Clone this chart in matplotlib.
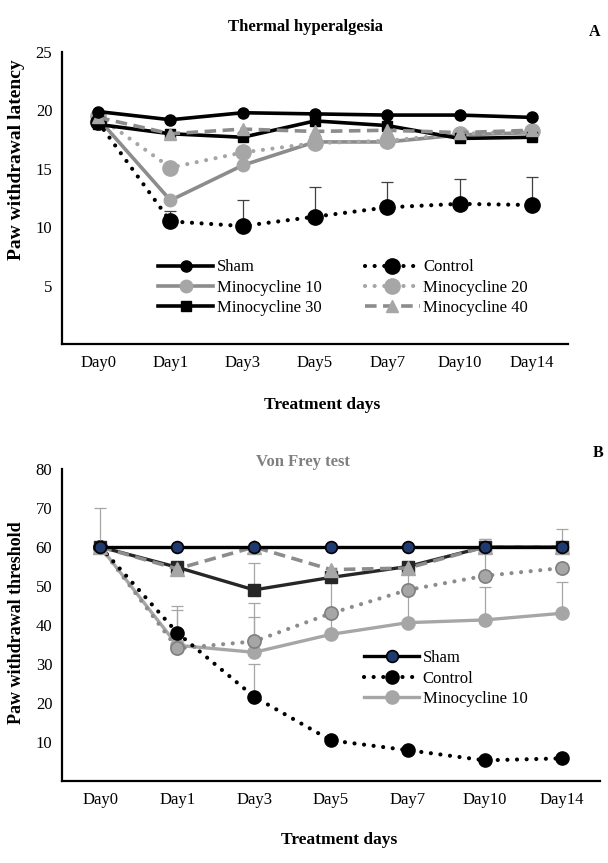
import numpy as np
import matplotlib.pyplot as plt

plt.rcParams['font.family'] = ['Liberation Serif', 'DejaVu Serif']

days = ['Day0', 'Day1', 'Day3', 'Day5', 'Day7', 'Day10', 'Day14']

# A - thermal hyperalgesia, paw withdrawal latency
a_sham = [19.9, 19.2, 19.8, 19.7, 19.6, 19.6, 19.4]
a_control = [19.0, 10.5, 10.1, 10.9, 11.7, 12.0, 11.9]
a_control_err = [0, 0.9, 2.2, 2.5, 2.2, 2.1, 2.4]
a_min10 = [19.3, 12.3, 15.3, 17.3, 17.3, 17.9, 18.1]
a_min20 = [19.5, 15.1, 16.4, 17.2, 17.4, 18.0, 18.2]
a_min30 = [18.8, 18.0, 17.7, 19.1, 18.7, 17.6, 17.7]
a_min40 = [19.4, 18.0, 18.4, 18.2, 18.3, 18.1, 18.3]

# B - von Frey, paw withdrawal threshold
b_sham = [60, 60, 60, 60, 60, 60, 60]
b_control = [60, 38.0, 21.6, 10.4, 7.9, 5.3, 5.8]
b_min10 = [60, 34.8, 33.0, 37.6, 40.6, 41.3, 43.0]
b_min20 = [60, 34.0, 35.8, 43.0, 49.0, 52.6, 54.6]
b_min30 = [60, 54.8, 49.0, 52.2, 55.0, 60, 60]
b_min40 = [60, 54.4, 60, 54.2, 54.6, 60, 60]
b_control_err = [10, 6.9, 8.4, 0, 0, 0, 0]
b_min10_err = [0, 0, 9, 14, 14, 8.5, 8]
b_min20_err = [0, 9.8, 9.8, 0, 0, 9.4, 0]
b_min30_err = [0, 0, 7, 0, 0, 0, 0]
b_min40_err = [0, 0, 0, 0, 0, 2, 4.6]

x = np.arange(len(days))
DOT = (0, (0.01, 2.3))
DASH = (0, (3.2, 1.8))


def up_err(ax, vals, err, color):
    vals = np.asarray(vals, float)
    err = np.asarray(err, float)
    keep = err > 0
    ax.errorbar(x[keep], vals[keep], yerr=[np.zeros(keep.sum()), err[keep]],
                fmt='none', ecolor=color, elinewidth=0.9, capsize=4,
                capthick=0.9, zorder=2)


def style(ax, ymax, ticks):
    ax.set_xlim(-0.5, 6.5)
    ax.set_ylim(0, ymax)
    ax.set_xticks(x)
    ax.set_xticklabels(days)
    ax.set_yticks(ticks)
    ax.tick_params(length=0, labelsize=12, pad=8)
    ax.tick_params(axis='y', pad=7)
    for s in ['top', 'right']:
        ax.spines[s].set_visible(False)
    for s in ['left', 'bottom']:
        ax.spines[s].set_linewidth(1.6)


fig = plt.figure(figsize=(6.08, 8.63), dpi=100)

# ---- panel A
ax1 = fig.add_axes([62/608, 1-344/863, 506/608, 292/863])
up_err(ax1, a_control, a_control_err, '#404040')
l_sham, = ax1.plot(x, a_sham, color='black', lw=2.6, marker='o', ms=8, label='Sham', zorder=5)
l_ctrl, = ax1.plot(x, a_control, color='black', lw=3, ls=DOT, dash_capstyle='round',
                   marker='o', ms=11, label='Control', zorder=4)
l_m10, = ax1.plot(x, a_min10, color='#8C8C8C', lw=2.6, marker='o', mfc='#A6A6A6',
                  mec='#A6A6A6', ms=9, label='Minocycline 10', zorder=3)
l_m20, = ax1.plot(x, a_min20, color='#A6A6A6', lw=3, ls=DOT, dash_capstyle='round',
                  marker='o', ms=11, label='Minocycline 20', zorder=3)
l_m30, = ax1.plot(x, a_min30, color='black', lw=2.6, marker='s', ms=7,
                  label='Minocycline 30', zorder=4)
l_m40, = ax1.plot(x, a_min40, color='#8C8C8C', lw=2.6, ls=DASH, marker='^', mfc='#A6A6A6',
                  mec='#A6A6A6', ms=9, label='Minocycline 40', zorder=4)
style(ax1, 25, [5, 10, 15, 20, 25])
# excel fills legend row by row, matplotlib by column
hs = [l_sham, l_m10, l_m30, l_ctrl, l_m20, l_m40]
ax1.legend(hs, [h.get_label() for h in hs], ncol=2, loc='upper left',
           bbox_to_anchor=(150/608, 1-251/863),
           bbox_transform=fig.transFigure, frameon=False, fontsize=12,
           handlelength=3.3, labelspacing=0.25, columnspacing=2.6, handletextpad=0.2,
           borderpad=0)

fig.text(305/608, 1-27/863, 'Thermal hyperalgesia', ha='center', va='center',
         fontsize=12, fontweight='bold')
fig.text(595/608, 1-32/863, 'A', ha='center', va='center', fontsize=11.5, fontweight='bold')
fig.text(17/608, 1-160/863, 'Paw withdrawal latency', rotation=90, ha='center',
         va='center', fontsize=14, fontweight='bold')
fig.text(322/608, 1-405/863, 'Treatment days', ha='center', va='center',
         fontsize=12.5, fontweight='bold')

# ---- panel B
ax2 = fig.add_axes([62/608, 1-781/863, 538/608, 312/863])
up_err(ax2, b_control, b_control_err, '#A6A6A6')
up_err(ax2, b_min10, b_min10_err, '#A6A6A6')
up_err(ax2, b_min20, b_min20_err, '#A6A6A6')
up_err(ax2, b_min30, b_min30_err, '#A6A6A6')
up_err(ax2, b_min40, b_min40_err, '#A6A6A6')
ax2.plot(x, b_sham, color='black', lw=2.4, marker='o', mfc='#1F3A6E', mec='black',
         mew=1.2, ms=8.5, label='Sham', zorder=5)
ax2.plot(x, b_control, color='black', lw=3, ls=DOT, dash_capstyle='round',
         marker='o', ms=9.5, label='Control', zorder=4)
ax2.plot(x, b_min10, color='#A6A6A6', lw=2.4, marker='o', mfc='#A6A6A6', mec='#A6A6A6',
         ms=9.5, label='Minocycline 10', zorder=3)
ax2.plot(x, b_min20, color='#8C8C8C', lw=3, ls=DOT, dash_capstyle='round', marker='o',
         mfc='#A6A6A6', mec='#7F7F7F', mew=1.2, ms=9.5, zorder=3)
ax2.plot(x, b_min30, color='#262626', lw=2.4, marker='s', ms=8, zorder=4)
ax2.plot(x, b_min40, color='#8C8C8C', lw=2.6, ls=DASH, marker='^', mfc='#A6A6A6',
         mec='#A6A6A6', ms=10, zorder=4)
style(ax2, 80, [10, 20, 30, 40, 50, 60, 70, 80])
ax2.legend(loc='upper left', bbox_to_anchor=(356/608, 1-642/863),
           bbox_transform=fig.transFigure, frameon=False, fontsize=12,
           handlelength=3.3, labelspacing=0.25, handletextpad=0.2, borderpad=0)

fig.text(303/608, 1-462/863, 'Von Frey test', ha='center', va='center',
         fontsize=12, fontweight='bold', color='#7F7F7F')
fig.text(598/608, 1-453/863, 'B', ha='center', va='center', fontsize=11.5, fontweight='bold')
fig.text(17/608, 1-623/863, 'Paw withdrawal threshold', rotation=90, ha='center',
         va='center', fontsize=13, fontweight='bold')
fig.text(339/608, 1-840/863, 'Treatment days', ha='center', va='center',
         fontsize=12.5, fontweight='bold')

plt.savefig('out.png', dpi=100)
